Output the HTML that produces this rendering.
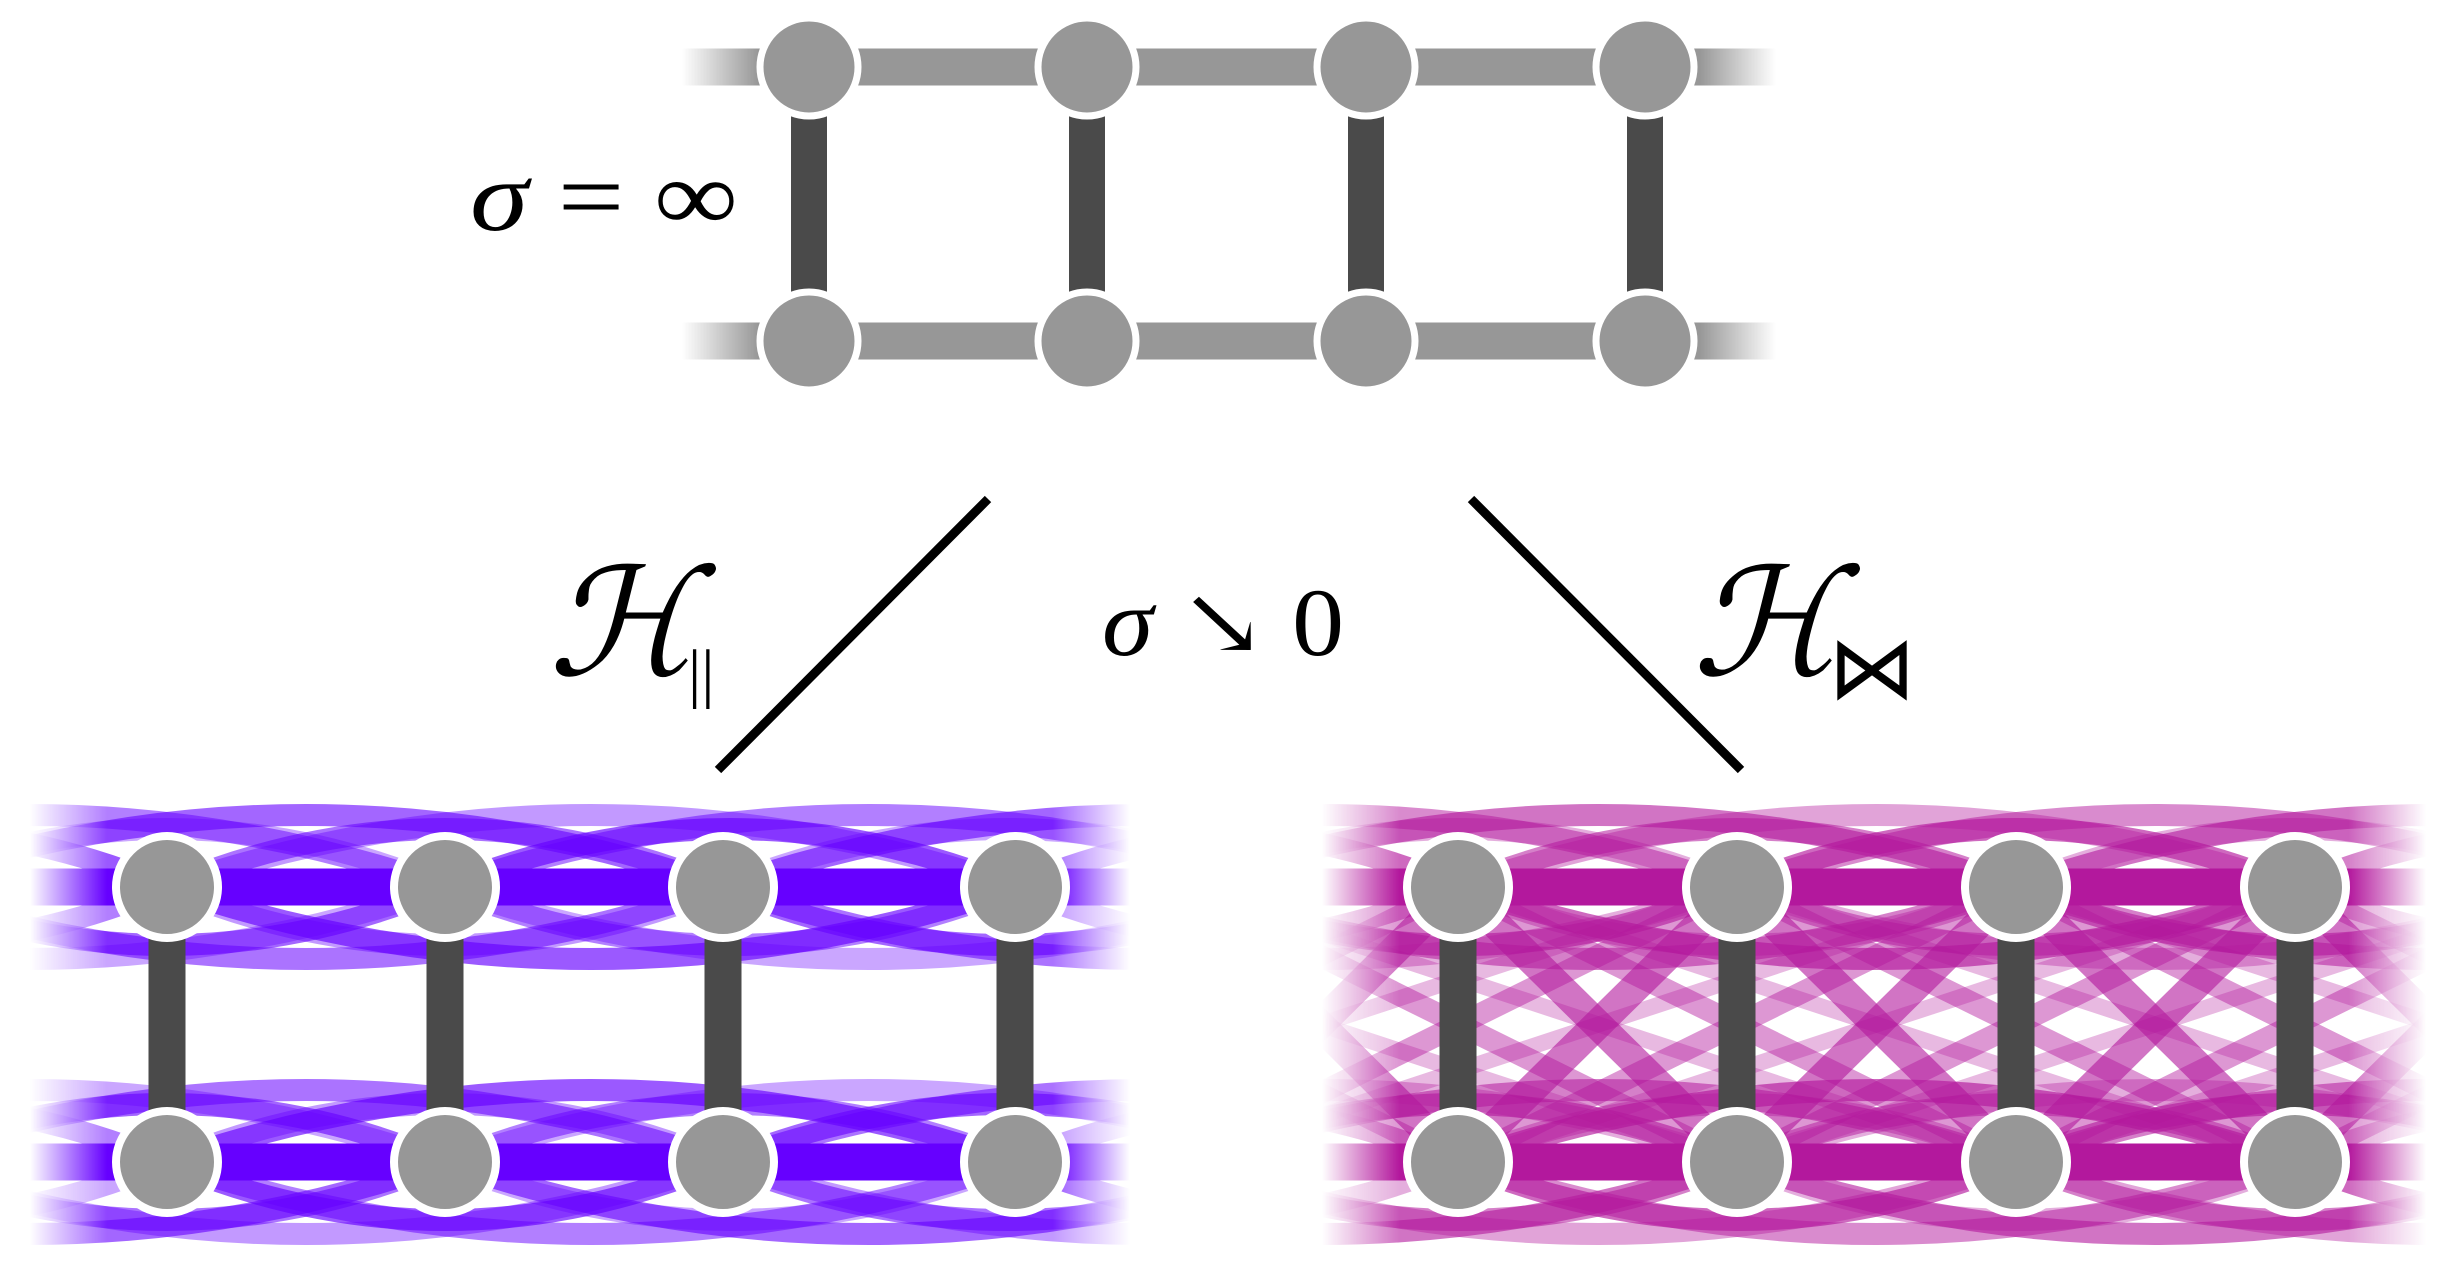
<!DOCTYPE html>
<html><head><meta charset="utf-8"><style>
html,body{margin:0;padding:0;background:#fff;width:2462px;height:1275px;overflow:hidden}
svg{display:block}
text{font-family:"Liberation Serif","DejaVu Serif",serif}
</style></head><body>
<svg id="s" width="2462" height="1275" viewBox="0 0 2462 1275" xmlns="http://www.w3.org/2000/svg">
<defs>
<linearGradient id="gT" x1="682" x2="1776" gradientUnits="userSpaceOnUse">
<stop offset="0" stop-color="#fff" stop-opacity="0"/><stop offset="0.07" stop-color="#fff"/><stop offset="0.93" stop-color="#fff"/><stop offset="1" stop-color="#fff" stop-opacity="0"/></linearGradient>
<linearGradient id="gL" x1="30" x2="1130" gradientUnits="userSpaceOnUse">
<stop offset="0" stop-color="#fff" stop-opacity="0"/><stop offset="0.07" stop-color="#fff"/><stop offset="0.93" stop-color="#fff"/><stop offset="1" stop-color="#fff" stop-opacity="0"/></linearGradient>
<linearGradient id="gR" x1="1322" x2="2426" gradientUnits="userSpaceOnUse">
<stop offset="0" stop-color="#fff" stop-opacity="0"/><stop offset="0.07" stop-color="#fff"/><stop offset="0.93" stop-color="#fff"/><stop offset="1" stop-color="#fff" stop-opacity="0"/></linearGradient>
<mask id="mT" maskUnits="userSpaceOnUse" x="0" y="0" width="2462" height="1275"><rect x="682" y="0" width="1094" height="400" fill="url(#gT)"/></mask>
<mask id="mL" maskUnits="userSpaceOnUse" x="0" y="0" width="2462" height="1275"><rect x="30" y="790" width="1100" height="470" fill="url(#gL)"/></mask>
<mask id="mR" maskUnits="userSpaceOnUse" x="0" y="0" width="2462" height="1275"><rect x="1322" y="790" width="1104" height="470" fill="url(#gR)"/></mask>
</defs>
<g mask="url(#mT)" stroke="#979797" stroke-width="37">
<line x1="600" y1="67" x2="1850" y2="67"/><line x1="600" y1="341" x2="1850" y2="341"/>
</g>
<g stroke="#4a4a4a" stroke-width="36">
<line x1="809" y1="67" x2="809" y2="341"/><line x1="1087" y1="67" x2="1087" y2="341"/><line x1="1366" y1="67" x2="1366" y2="341"/><line x1="1645" y1="67" x2="1645" y2="341"/>
</g>
<g fill="#979797" stroke="#fff" stroke-width="7">
<circle cx="809" cy="67" r="49"/><circle cx="1087" cy="67" r="49"/><circle cx="1366" cy="67" r="49"/><circle cx="1645" cy="67" r="49"/>
<circle cx="809" cy="341" r="49"/><circle cx="1087" cy="341" r="49"/><circle cx="1366" cy="341" r="49"/><circle cx="1645" cy="341" r="49"/>
</g>
<text x="470" y="230" font-size="100" textLength="268" lengthAdjust="spacingAndGlyphs"><tspan font-style="italic">σ</tspan> = ∞</text>
<line x1="988" y1="499" x2="718" y2="770" stroke="#000" stroke-width="9"/>
<line x1="1471" y1="499" x2="1741" y2="770" stroke="#000" stroke-width="9"/>
<text x="548" y="675" font-size="150" font-style="italic">ℋ</text>
<text x="688" y="695" font-size="66">||</text>
<text x="1102" y="655" font-size="96" textLength="242" lengthAdjust="spacingAndGlyphs"><tspan font-style="italic">σ</tspan> ↘ 0</text>
<text x="1692" y="675" font-size="150" font-style="italic">ℋ</text>
<text x="1828" y="698" font-size="88">⋈</text>
<g id="L" mask="url(#mL)"></g>
<g id="R" mask="url(#mR)"></g>
<g id="LN"></g>
</svg>
<script>
var NS="http://www.w3.org/2000/svg";
function el(p,t,a){var e=document.createElementNS(NS,t);for(var k in a)e.setAttribute(k,a[k]);p.appendChild(e);return e;}
function panel(gid,xs,col,cross){
 var g=document.getElementById(gid);
 var ys=[887,1162];
 var seeds=[0.55,0.4,0.65,0.5,0.35,0.6];
 ys.forEach(function(y,ri){
  for(var i=0;i<xs.length;i++)for(var j=i+2;j<xs.length&&j<=i+3;j++){
   var d=j-i, amp=(d==2?58:72);
   [-1,1].forEach(function(s,k){
    var op=seeds[(i+j+k+ri)%6];
    el(g,'path',{d:'M'+xs[i]+' '+y+' Q'+((xs[i]+xs[j])/2)+' '+(y+s*amp*2)+' '+xs[j]+' '+y,fill:'none',stroke:col,'stroke-width':22,'stroke-opacity':op});
   });
  }
 });
 if(cross){
  for(var i=0;i<xs.length;i++)for(var j=0;j<xs.length;j++){
   var d=Math.abs(i-j); if(d<1||d>3)continue;
   var op=d==1?0.6:(d==2?0.45:0.3), w=d==1?30:(d==2?22:16);
   el(g,'line',{x1:xs[i],y1:ys[0],x2:xs[j],y2:ys[1],stroke:col,'stroke-width':w,'stroke-opacity':op});
  }
 }
 ys.forEach(function(y){el(g,'line',{x1:xs[0]-100,y1:y,x2:xs[xs.length-1]+100,y2:y,stroke:col,'stroke-width':37});});
}
var xl=[-389,-111,167,445,723,1015,1293,1571];
var xr=[903,1181,1458,1737,2016,2295,2573,2851];
panel('L',xl,'#6600ff',false);
panel('R',xr,'#b3189d',true);
var LN=document.getElementById('LN');
[xl.slice(2,6),xr.slice(2,6)].forEach(function(a){a.forEach(function(x){
 el(LN,'line',{x1:x,y1:887,x2:x,y2:1162,stroke:'#4a4a4a','stroke-width':37});
});});
[xl.slice(2,6),xr.slice(2,6)].forEach(function(a){a.forEach(function(x){
 [887,1162].forEach(function(y){el(LN,'circle',{cx:x,cy:y,r:51,fill:'#979797',stroke:'#fff','stroke-width':8});});
});});
</script>
</body></html>
